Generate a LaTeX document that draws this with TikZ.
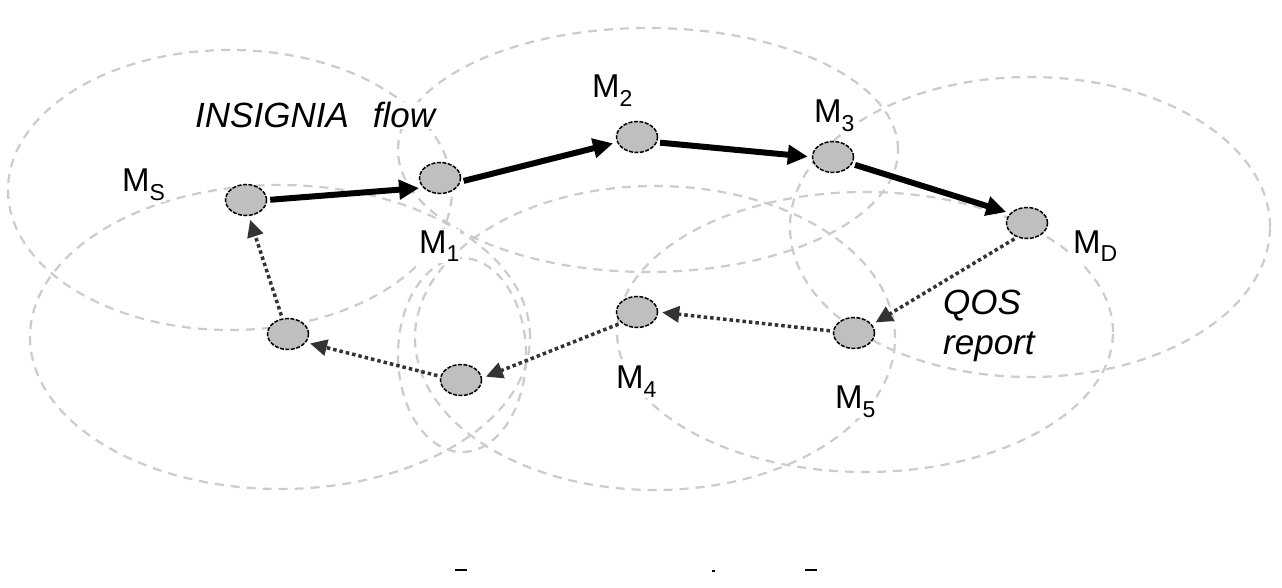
\documentclass[tikz,border=0pt]{standalone}
\usepackage{fontspec}
\setmainfont{Liberation Sans}
\usetikzlibrary{arrows.meta,shapes.geometric}
\newcommand\subl[1]{\raisebox{-9pt}{\fontsize{23}{23}\selectfont #1}}
\begin{document}
\begin{tikzpicture}[x=1pt,y=-1pt,
 rangeoval/.style={draw=black!20,line width=2.2pt,dash pattern=on 9pt off 7pt},
 hostnode/.style={ellipse,draw=black,line width=1.5pt,dash pattern=on 4pt off 1.5pt,fill=black!25,minimum width=41pt,minimum height=31pt,inner sep=0pt},
 flowarr/.style={draw=black,line width=6pt,-{Triangle[length=20pt,width=19pt]},shorten >=4pt,shorten <=3pt},
 qosarr/.style={draw=black!80,line width=3.5pt,dash pattern=on 3.5pt off 3pt,-{Triangle[length=17pt,width=16pt]},shorten >=4pt,shorten <=3pt},
 nodelab/.style={inner sep=1pt,fill=white,font=\fontsize{33}{38}\selectfont},
 notetext/.style={inner sep=1pt,fill=white,font=\fontsize{35}{40}\selectfont\itshape,align=left}]
\useasboundingbox (0,0) rectangle (1282,588);
\fill[white] (0,0) rectangle (1282,588);
% transmission ranges
\draw[rangeoval] (230,190) ellipse [x radius=222pt, y radius=140pt];
\draw[rangeoval] (280,337) ellipse [x radius=250pt, y radius=152pt];
\draw[rangeoval] (462,355) ellipse [x radius=64pt, y radius=97pt];
\draw[rangeoval] (648,150) ellipse [x radius=250pt, y radius=122pt];
\draw[rangeoval] (655,338) ellipse [x radius=240pt, y radius=152pt];
\draw[rangeoval] (865,332) ellipse [x radius=248pt, y radius=140pt];
\draw[rangeoval] (1030,227) ellipse [x radius=240pt, y radius=150pt];
% labels
\node[nodelab,anchor=base west] (lms) at (121,192) {M\subl{S}};
\node[nodelab,anchor=base west] (lm1) at (418,253) {M\subl{1}};
\node[nodelab,anchor=base west] (lm2) at (591,98) {M\subl{2}};
\node[nodelab,anchor=base west] (lm3) at (813,123) {M\subl{3}};
\node[nodelab,anchor=base west] (lmd) at (1072,253) {M\subl{D}};
\node[nodelab,anchor=base west] (lm4) at (615,388) {M\subl{4}};
\node[nodelab,anchor=base west] (lm5) at (834,408) {M\subl{5}};
\node[notetext,anchor=base west] (flow) at (194,128) {INSIGNIA\hspace{24pt}flow};
\node[notetext,anchor=north west] (qos) at (942,289) {QOS\\report};
% hosts
\node[hostnode] (ms) at (246,200) {};
\node[hostnode] (m1) at (440,178) {};
\node[hostnode] (m2) at (637,137) {};
\node[hostnode] (m3) at (833,157) {};
\node[hostnode] (md) at (1027,223) {};
\node[hostnode] (m5) at (854,333) {};
\node[hostnode] (m4) at (637,312) {};
\node[hostnode] (ha) at (461,380) {};
\node[hostnode] (hb) at (288,334) {};
% INSIGNIA flow
\draw[flowarr] (ms.east) -- (m1.210);
\draw[flowarr] (m1.-10) -- (m2.195);
\draw[flowarr] (m2.-15) -- (m3.180);
\draw[flowarr] (m3.-20) -- (md.150);
% QOS report
\draw[qosarr] (md.235) -- (m5.25);
\draw[qosarr] (m5.175) -- (m4.0);
\draw[qosarr] (m4.215) -- (ha.5);
\draw[qosarr] (ha.170) -- (hb.-25);
\draw[qosarr] (hb.110) -- (ms.280);
% stray marks
\draw[line width=2.5pt] (455,570) -- (467,570);
\draw[line width=2pt] (712,571) -- (715,571);
\draw[line width=2.5pt] (805,570) -- (817,570);
\end{tikzpicture}
\end{document}
